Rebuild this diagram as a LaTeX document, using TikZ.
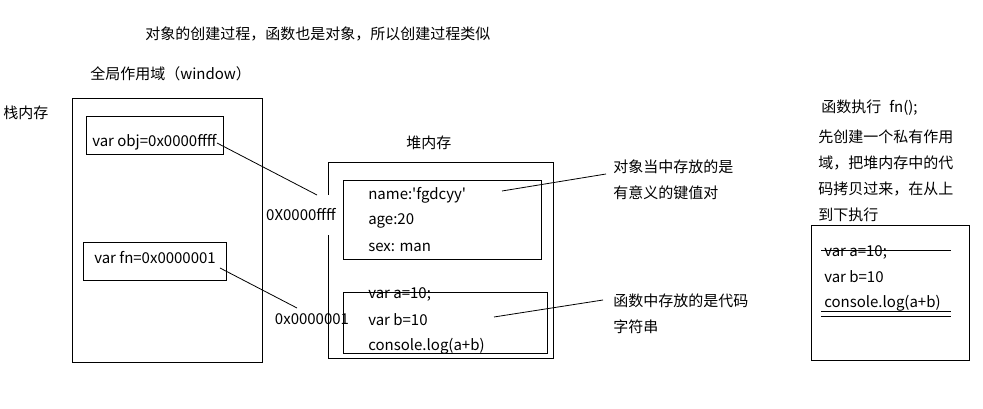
\documentclass[tikz,border=0pt]{standalone}
\usepackage{fontspec}
\setmainfont{Noto Sans CJK SC}
\newfontfamily\plainfont{Noto Sans CJK SC}
\usetikzlibrary{fit}
\begin{document}
\begin{tikzpicture}[x=0.75pt,y=-0.75pt,
  font=\fontsize{11.25}{13}\selectfont,
  box/.style={draw, line width=0.75pt, inner sep=0pt},
  txt/.style={anchor=west, inner sep=0pt},
  ln/.style={line width=0.6pt}]
\useasboundingbox (0,0) rectangle (983,409);
% titles
\node[txt] (title) at (145,34) {对象的创建过程，函数也是对象，所以创建过程类似};
\node[txt] (scope) at (90,74) {全局作用域（window）};
\node[txt] (stacklbl) at (3,113) {栈内存};
\node[txt] (heaplbl) at (406,143) {堆内存};
% stack
\node[box, fit={(72,99) (262,363)}] (stack) {};
\node[box, fit={(86,117) (223,155)}] (objbox) {};
\node[txt] (objtxt) at (92,142) {var obj=0x0000ffff};
\node[box, fit={(83,243) (226,281)}] (fnbox) {};
\node[txt] (fntxt) at (94,258) {var fn=0x0000001};
% heap
\node[box, fit={(328,163) (553,359)}] (heap) {};
\node[box, fit={(343,181) (541,260)}] (hobj) {};
\node[txt] (n1) at (368,195) {\plainfont name:'fgdcyy'};
\node[txt] (n2) at (368,221) {age:20};
\node[txt] (n3) at (368,247) {sex: man};
\node[box, fit={(343,293) (547,354)}] (hfn) {};
\node[txt] (f1) at (368,294) {var a=10;};
\node[txt] (f2) at (368,320) {var b=10};
\node[txt] (f3) at (368,346) {console.log(a+b)};
% address labels
\node[fill=white, inner xsep=2pt, inner ysep=0pt, minimum height=30pt] (addr1) at (301,215) {0X0000ffff};
\node[inner sep=0pt] (addr2) at (312,319) {0x0000001};
% connectors
\coordinate (a1) at (217,143);
\coordinate (a2) at (317,195);
\draw[ln] (a1) -- (a2);
\coordinate (b1) at (220,268);
\coordinate (b2) at (297,308);
\draw[ln] (b1) -- (b2);
% annotations
\coordinate (c1) at (502,191);
\coordinate (c2) at (606,174);
\draw[ln] (c1) -- (c2);
\node[txt] (ann1) at (613,167) {对象当中存放的是};
\node[txt] (ann2) at (613,193) {有意义的键值对};
\coordinate (d1) at (494,317);
\coordinate (d2) at (603,300);
\draw[ln] (d1) -- (d2);
\node[txt] (ann3) at (613,301) {函数中存放的是代码};
\node[txt] (ann4) at (613,327) {字符串};
% right side
\node[txt] (exec) at (821,108) {函数执行\hspace{6pt}fn();};
\node[txt] (r1) at (818,137) {先创建一个私有作用};
\node[txt] (r2) at (818,163) {域，把堆内存中的代};
\node[txt] (r3) at (818,189) {码拷贝过来，在从上};
\node[txt] (r4) at (818,215) {到下执行};
\node[box, fit={(811,226) (969,361)}] (rbox) {};
\node[txt] (g1) at (824,252) {var a=10;};
\node[txt] (g2) at (824,277) {var b=10};
\node[txt] (g3) at (824,303) {console.log(a+b)};
\coordinate (s1) at (821,250); \coordinate (s2) at (951,250);
\draw[ln] (s1) -- (s2);
\coordinate (u1) at (821,311); \coordinate (u2) at (951,311);
\coordinate (u3) at (821,316); \coordinate (u4) at (951,316);
\draw[ln] (u1) -- (u2);
\draw[ln] (u3) -- (u4);
\end{tikzpicture}
\end{document}
